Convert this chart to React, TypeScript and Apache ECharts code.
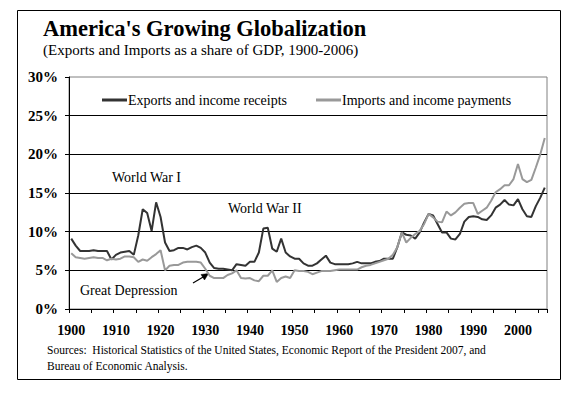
import React, { useEffect, useRef } from "react";
import * as echarts from "echarts";

const years: string[] = Array.from({ length: 107 }, (_, i) => String(1900 + i));

const exportsShare: number[] = [
  9.1, 8.2, 7.5, 7.5, 7.5, 7.6, 7.5, 7.5, 7.5, 6.4,
  7.0, 7.3, 7.4, 7.5, 7.0, 9.5, 12.9, 12.4, 10.1, 13.8,
  11.9, 8.6, 7.5, 7.6, 7.9, 7.9, 7.7, 8.0, 8.2, 7.9,
  7.3, 6.0, 5.3, 5.2, 5.2, 5.1, 5.0, 5.8, 5.7, 5.6,
  6.1, 6.1, 7.3, 10.4, 10.5, 7.8, 7.4, 9.1, 7.3, 6.8,
  6.5, 6.5, 5.9, 5.6, 5.6, 5.9, 6.4, 6.9, 6.0, 5.8,
  5.8, 5.8, 5.8, 5.9, 6.1, 5.9, 5.9, 5.9, 6.1, 6.2,
  6.5, 6.5, 6.5, 8.0, 9.9, 9.6, 9.5, 9.1, 9.9, 11.2,
  12.3, 12.1, 11.0, 9.9, 9.9, 9.1, 9.0, 9.7, 11.3, 11.9,
  12.0, 11.9, 11.6, 11.5, 12.1, 13.1, 13.5, 14.1, 13.5, 13.4,
  14.2, 12.9, 12.0, 11.9, 13.3, 14.4, 15.7,
];

const importsShare: number[] = [
  7.2, 6.7, 6.6, 6.5, 6.6, 6.7, 6.6, 6.6, 6.3, 6.5,
  6.4, 6.5, 6.8, 6.8, 6.7, 6.1, 6.4, 6.25, 6.7, 7.1,
  7.6, 5.0, 5.6, 5.7, 5.7, 6.0, 6.1, 6.1, 6.1, 6.0,
  5.2, 4.3, 4.0, 4.0, 4.0, 4.4, 4.6, 5.0, 4.0, 3.95,
  4.0, 3.7, 3.6, 4.3, 4.3, 5.0, 3.5, 4.0, 4.2, 4.0,
  5.0, 4.9, 4.9, 4.8, 4.5, 4.7, 4.9, 4.9, 4.9, 5.0,
  5.1, 5.1, 5.1, 5.1, 5.1, 5.4, 5.6, 5.7, 5.9, 6.1,
  6.3, 6.5, 7.0, 8.0, 9.9, 8.6, 9.2, 9.7, 10.1, 11.0,
  12.3, 11.85, 11.3, 11.2, 12.6, 12.1, 12.5, 13.1, 13.6, 13.7,
  13.7, 12.3, 12.7, 13.1, 14.0, 15.1, 15.5, 16.0, 16.0, 16.8,
  18.75, 16.8, 16.4, 16.7, 18.3, 20.0, 22.1,
];

const seriesNames: string[] = ["Exports and income receipts", "Imports and income payments"];
const titleText = "America's Growing Globalization";
const subtitleText = "(Exports and Imports as a share of GDP, 1900-2006)";
const sourceLines: string[] = [
  "Sources:  Historical Statistics of the United States, Economic Report of the President 2007, and",
  "Bureau of Economic Analysis.",
];
const annotations: string[] = ["World War I", "World War II", "Great Depression"];

const SERIF = "'Liberation Serif', 'Times New Roman', serif";

export default function App() {
  const ref = useRef<HTMLDivElement>(null);

  useEffect(() => {
    document.body.style.margin = "0";
    if (!ref.current) return;
    const chart = echarts.init(ref.current, undefined, { renderer: "svg" });
    const option: any = {
      animation: false,
      backgroundColor: "#ffffff",
      textStyle: { fontFamily: SERIF, color: "#000" },
      grid: {
        left: 69,
        right: 30,
        top: 77,
        bottom: 85,
        containLabel: false,
        show: true,
        borderColor: "#808080",
        borderWidth: 1,
        backgroundColor: "transparent",
      },
      legend: {
        left: 102,
        top: 93,
        padding: 0,
        icon: "rect",
        itemWidth: 25,
        itemHeight: 3,
        itemGap: 29,
        textStyle: {
          fontFamily: SERIF,
          fontSize: 14,
          color: "#000",
          padding: [0, 0, 0, -4],
        },
        data: seriesNames,
      },
      xAxis: {
        type: "category",
        data: years,
        boundaryGap: true,
        axisLine: { show: true, lineStyle: { color: "#000", width: 1 } },
        axisTick: { show: true, interval: 4, length: 4, lineStyle: { color: "#000" } },
        axisLabel: {
          interval: 9,
          margin: 14,
          fontFamily: SERIF,
          fontSize: 14,
          fontWeight: "bold",
          color: "#000",
        },
        splitLine: { show: false },
      },
      yAxis: {
        type: "value",
        min: 0,
        max: 30,
        interval: 5,
        axisLine: { show: true, lineStyle: { color: "#000", width: 1 } },
        axisTick: { show: true, length: 4, lineStyle: { color: "#000" } },
        axisLabel: {
          formatter: "{value}%",
          margin: 11,
          fontFamily: SERIF,
          fontSize: 15,
          fontWeight: "bold",
          color: "#000",
        },
        splitLine: {
          show: true,
          showMinLine: false,
          showMaxLine: false,
          lineStyle: { color: "#000", width: 1 },
        },
      },
      series: [
        {
          name: seriesNames[0],
          type: "line",
          data: exportsShare,
          symbol: "none",
          lineStyle: { color: "#333333", width: 2 },
          itemStyle: { color: "#333333" },
        },
        {
          name: seriesNames[1],
          type: "line",
          data: importsShare,
          symbol: "none",
          lineStyle: { color: "#999999", width: 2 },
          itemStyle: { color: "#999999" },
        },
      ],
      graphic: [
        {
          type: "rect",
          shape: { x: 17.5, y: 10.5, width: 543, height: 369 },
          style: { fill: "none", stroke: "#000", lineWidth: 1 },
          silent: true,
        },
        {
          type: "text",
          x: 43,
          y: 28,
          style: {
            text: titleText,
            font: `bold 22.5px ${SERIF}`,
            fill: "#000",
            verticalAlign: "middle",
          },
        },
        {
          type: "text",
          x: 43,
          y: 50,
          style: {
            text: subtitleText,
            font: `15px ${SERIF}`,
            fill: "#000",
            verticalAlign: "middle",
          },
        },
        {
          type: "text",
          x: 112,
          y: 177,
          style: { text: annotations[0], font: `14px ${SERIF}`, fill: "#000", verticalAlign: "middle" },
        },
        {
          type: "text",
          x: 228,
          y: 208,
          style: { text: annotations[1], font: `14px ${SERIF}`, fill: "#000", verticalAlign: "middle" },
        },
        {
          type: "text",
          x: 80,
          y: 290,
          style: { text: annotations[2], font: `14px ${SERIF}`, fill: "#000", verticalAlign: "middle" },
        },
        {
          type: "line",
          shape: { x1: 193, y1: 283, x2: 204, y2: 276.5 },
          style: { stroke: "#000", lineWidth: 1.2 },
        },
        {
          type: "polygon",
          shape: { points: [[208.5, 273.5], [201, 274.5], [204.5, 280]] },
          style: { fill: "#000", stroke: "#000", lineWidth: 0.5 },
        },
        {
          type: "text",
          x: 47,
          y: 350,
          style: { text: sourceLines[0], font: `11.5px ${SERIF}`, fill: "#000", verticalAlign: "middle" },
        },
        {
          type: "text",
          x: 47,
          y: 366,
          style: { text: sourceLines[1], font: `11.5px ${SERIF}`, fill: "#000", verticalAlign: "middle" },
        },
      ],
    };
    chart.setOption(option);
    return () => chart.dispose();
  }, []);

  return <div ref={ref} style={{ width: 577, height: 394 }} />;
}
